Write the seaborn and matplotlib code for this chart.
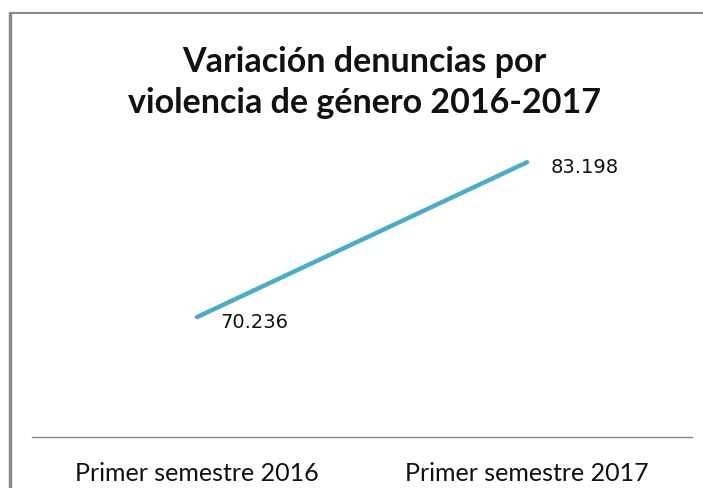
import pandas as pd
import numpy as np
import seaborn as sns
from matplotlib import pyplot as plt
from matplotlib.lines import Line2D

periodos = ['Primer semestre 2016', 'Primer semestre 2017']
denuncias = [70236, 83198]
etiquetas = ['70.236', '83.198']

df = pd.DataFrame({'periodo': periodos, 'denuncias': denuncias})

sns.set_style('white')
plt.rcParams['font.family'] = ['Lato', 'DejaVu Sans']

fig = plt.figure(figsize=(7.03, 4.89), dpi=100)
ax = fig.add_axes([32 / 703, 1 - 438 / 489, 660 / 703, (438 - 82) / 489])

sns.lineplot(data=df, x='periodo', y='denuncias', color='#4BACC6', linewidth=3.2,
             sort=False, ax=ax)

ax.set_xlim(-0.5, 1.5)
ax.set_ylim(60200, 90000)
ax.set_xlabel('')
ax.set_ylabel('')
ax.set_yticks([])
ax.tick_params(axis='x', length=0, pad=17, labelsize=18, labelcolor='#111111')
for s in ['top', 'right', 'left']:
    ax.spines[s].set_visible(False)
ax.spines['bottom'].set_color('#868686')
ax.spines['bottom'].set_linewidth(1)

for i, (v, t) in enumerate(zip(denuncias, etiquetas)):
    ax.annotate(t, (i, v), xytext=(17, -3), textcoords='offset points',
                fontsize=14, va='center', ha='left', family='DejaVu Sans', color='#111111')

fig.text(0.518, 0.832, 'Variación denuncias por\nviolencia de género 2016-2017',
         ha='center', va='center', fontsize=24.5, fontweight='bold', linespacing=1.35,
         color='#111111')

# marco del gráfico
fig.add_artist(Line2D([10 / 703, 1], [1 - 14 / 489] * 2, color='#8a8a8a', linewidth=1.5,
                      transform=fig.transFigure))
fig.add_artist(Line2D([10 / 703] * 2, [0, 1 - 14 / 489], color='#8a8a8a', linewidth=2.5,
                      transform=fig.transFigure))

fig.savefig('out.png', dpi=100)
